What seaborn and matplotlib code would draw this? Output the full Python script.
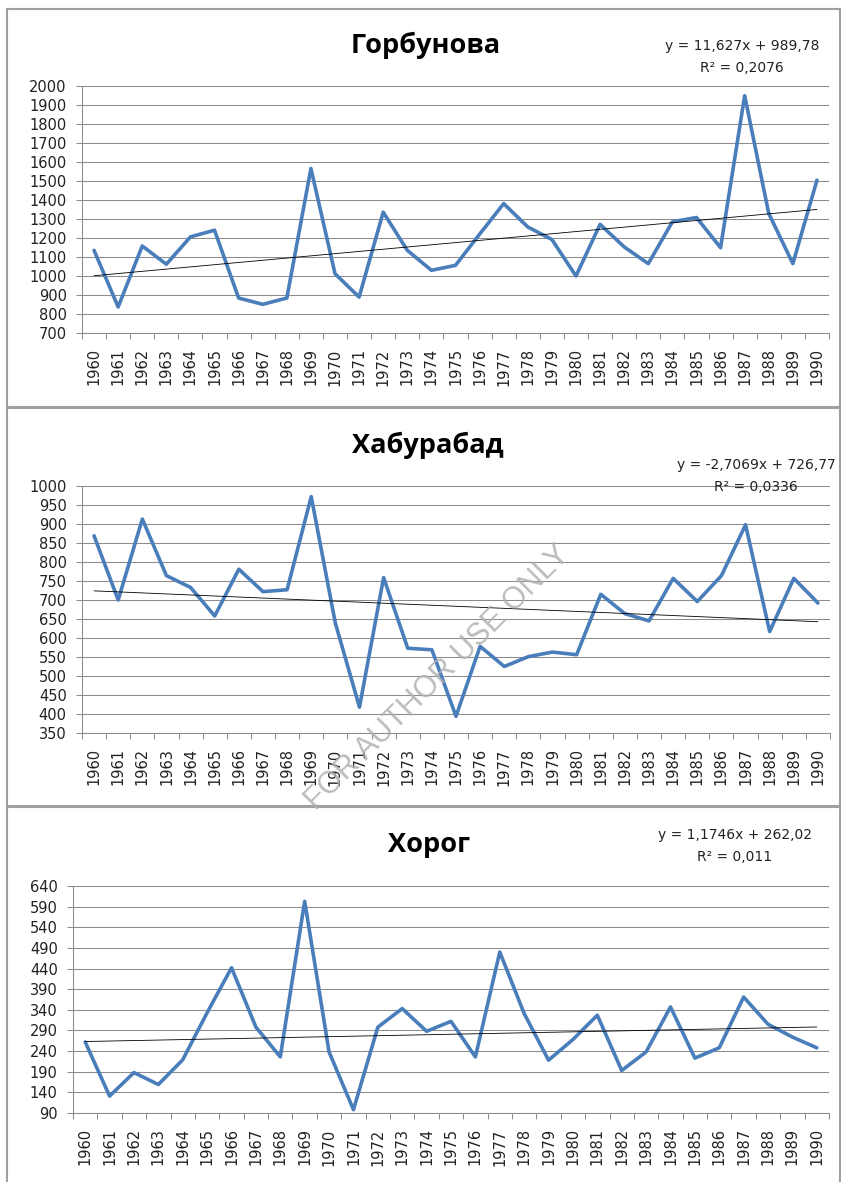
import numpy as np
import pandas as pd
import seaborn as sns
import matplotlib.pyplot as plt
import matplotlib.patches as mpatches

# annual values, 1960-1990
YEARS = list(range(1960, 1991))

GORBUNOVA = [1135, 837, 1158, 1062, 1206, 1241, 884, 851, 884, 1566,
             1012, 889, 1336, 1135, 1030, 1056, 1220, 1381, 1258, 1192,
             1000, 1272, 1153, 1065, 1285, 1308, 1149, 1949, 1329, 1065,
             1504]
KHABURABAD = [869, 700, 913, 764, 733, 658, 781, 722, 727, 972,
              639, 418, 759, 573, 569, 394, 578, 525, 551, 563,
              556, 715, 664, 645, 757, 696, 764, 898, 617, 757,
              692]
KHOROG = [262, 131, 188, 159, 219, 333, 442, 298, 226, 603,
          238, 98, 298, 343, 288, 312, 226, 480, 331, 218,
          268, 327, 193, 238, 347, 223, 248, 371, 305, 274,
          248]

TITLES = ['Горбунова', 'Хабурабад', 'Хорог']
TRENDS = [(11.627, 989.78), (-2.7069, 726.77), (1.1746, 262.02)]
EQ_TEXT = [('y = 11,627x + 989,78', 'R² = 0,2076'),
           ('y = -2,7069x + 726,77', 'R² = 0,0336'),
           ('y = 1,1746x + 262,02', 'R² = 0,011')]
Y_RANGES = [(700, 2000, 100), (350, 1000, 50), (90, 640, 50)]

W, H = 841, 1182
BLUE = '#4a7ebb'
GREY = '#8c8c8c'


def box(l, t, r, b):
    return [l / W, 1 - b / H, (r - l) / W, (b - t) / H]


def fx(x):
    return x / W


def fy(y):
    return 1 - y / H


sns.set_theme(style='white')
plt.rcParams['font.family'] = ['DejaVu Sans']

fig = plt.figure(figsize=(W / 100, H / 100), dpi=100)

# chart frames (Excel chart areas)
for top, bot in [(9, 407), (408, 806), (807, 1200)]:
    fig.patches.append(mpatches.Rectangle((fx(7), fy(bot)), fx(833), (bot - top) / H,
                                          transform=fig.transFigure, fill=False,
                                          edgecolor='#a0a0a0', linewidth=1.5))

axes_px = [(82, 86, 829, 333), (82, 486, 830, 733), (73, 886, 829, 1113)]
title_px = [(426, 45), (428, 445), (429, 845)]
eq_px = [(742, 46, 68), (756, 465, 487), (735, 835, 857)]

for i, vals in enumerate([GORBUNOVA, KHABURABAD, KHOROG]):
    ax = fig.add_axes(box(*axes_px[i]))
    df = pd.DataFrame({'year': YEARS, 'value': vals})
    sns.lineplot(data=df, x='year', y='value', ax=ax, color=BLUE, linewidth=2.6)

    k, b = TRENDS[i]
    trend = [b + k * (yr - YEARS[0] + 1) for yr in YEARS]
    ax.plot(YEARS, trend, color='black', linewidth=0.6)

    lo, hi, step = Y_RANGES[i]
    ax.set_ylim(lo, hi)
    ax.set_yticks(np.arange(lo, hi + 1, step))
    ax.set_xlim(YEARS[0] - 0.5, YEARS[-1] + 0.5)
    ax.set_xticks(YEARS)
    ax.set_xticks(np.arange(YEARS[0] - 0.5, YEARS[-1] + 1), minor=True)
    ax.set_xlabel('')
    ax.set_ylabel('')

    ax.grid(axis='y', color=GREY, linewidth=0.75)
    ax.set_axisbelow(True)
    for s in ['top', 'right']:
        ax.spines[s].set_visible(False)
    for s in ['left', 'bottom']:
        ax.spines[s].set_color(GREY)
        ax.spines[s].set_linewidth(0.75)

    ax.tick_params(axis='x', which='major', length=0, pad=11, labelrotation=90,
                   labelsize=10.5, labelcolor='#222222')
    ax.tick_params(axis='x', which='minor', bottom=True, length=4.5, width=0.75,
                   color=GREY, direction='out')
    ax.tick_params(axis='y', left=True, length=4, width=0.75, color=GREY,
                   direction='out', pad=7, labelsize=10.5, labelcolor='#222222')

    tx, ty = title_px[i]
    fig.text(fx(tx), fy(ty), TITLES[i], ha='center', va='center', fontsize=19.5,
             fontweight='bold', family=['Open Sans', 'DejaVu Sans'], color='black')
    ex, ey1, ey2 = eq_px[i]
    fig.text(fx(ex), fy(ey1), EQ_TEXT[i][0], ha='center', va='center', fontsize=10,
             color='#222222')
    fig.text(fx(ex), fy(ey2), EQ_TEXT[i][1], ha='center', va='center', fontsize=10,
             color='#222222')

fig.text(fx(438), fy(678), 'FOR AUTHOR USE ONLY', rotation=45, ha='center', va='center',
         fontsize=22, family=['Liberation Sans', 'DejaVu Sans'], color='#b0b0b0',
         alpha=0.85, zorder=10)

fig.savefig('out.png', dpi=100)
